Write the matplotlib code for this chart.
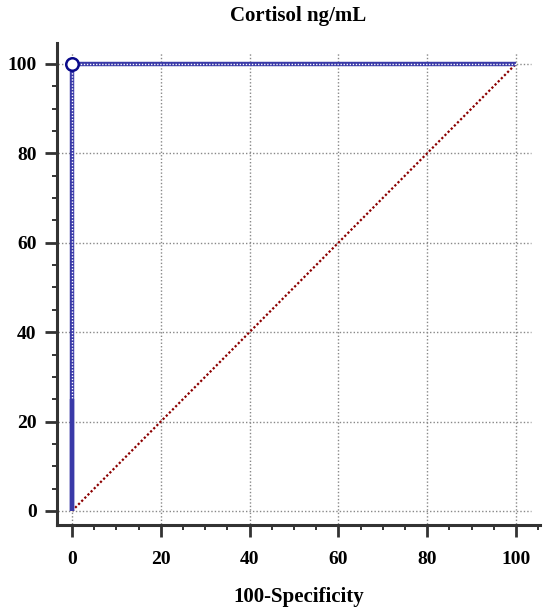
import numpy as np
import matplotlib.pyplot as plt
from matplotlib.ticker import MultipleLocator

# ROC curve for cortisol (100-Specificity vs Sensitivity)
roc_x = [0, 0, 100]
roc_y = [0, 100, 100]
solid_x = [0, 0]
solid_y = [0, 25]
ref_x = [0, 100]
ref_y = [0, 100]
cut_x = [0]
cut_y = [100]
major_ticks = [0, 20, 40, 60, 80, 100]

plt.rcParams['font.family'] = ['Liberation Serif', 'DejaVu Serif']
plt.rcParams['font.weight'] = 'bold'

fig = plt.figure(figsize=(5.5, 6.11), dpi=100)
ax = fig.add_axes([0.1036, 0.1408, 0.878, 0.789])
ax.set_xlim(-3.38, 105.4)
ax.set_ylim(-3.13, 104.7)

# grid drawn by hand so it stops short of the spines
for t in major_ticks:
    ax.plot([-3.2, 103.5], [t, t], color='#888888', lw=1.0, ls=(0, (1, 1.5)), zorder=1)
    ax.plot([t, t], [-3.0, 102.5], color='#888888', lw=1.0, ls=(0, (1, 1.5)), zorder=1)

# reference diagonal
ax.plot(ref_x, ref_y, color='#8b0000', lw=1.6, ls=(0, (1, 1)), zorder=2)

# ROC curve: blue band with white dots, solid near origin
ax.plot(roc_x, roc_y, color='#3a3aa8', lw=3.2, zorder=3, solid_capstyle='butt')
ax.plot(roc_x, roc_y, color='white', lw=1.0, ls=(0, (1, 1.2)), zorder=4)
ax.plot(solid_x, solid_y, color='#3a3aa8', lw=3.2, zorder=5, solid_capstyle='butt')

# optimal cut-off point
ax.plot(cut_x, cut_y, 'o', ms=9, mfc='white', mec='#0a0a8a', mew=1.8, zorder=6, clip_on=False)

for side in ['top', 'right']:
    ax.spines[side].set_visible(False)
for side in ['left', 'bottom']:
    ax.spines[side].set_linewidth(2.2)
    ax.spines[side].set_color('#333333')

ax.set_xticks(major_ticks)
ax.set_yticks(major_ticks)
ax.xaxis.set_minor_locator(MultipleLocator(5))
ax.yaxis.set_minor_locator(MultipleLocator(5))
ax.tick_params(which='major', length=8.6, width=2.0, color='#333333', labelsize=14)
ax.tick_params(which='minor', length=3.8, width=1.4, color='#333333')
ax.tick_params(axis='x', which='major', pad=10)
ax.tick_params(axis='y', which='major', pad=6)
for lab in ax.get_xticklabels() + ax.get_yticklabels():
    lab.set_fontweight('bold')

ax.set_xlabel('100-Specificity', fontsize=15, fontweight='bold', labelpad=14)
ax.set_title('Cortisol ng/mL', fontsize=15, fontweight='bold', pad=15.5)

fig.savefig('out.png', dpi=100)
